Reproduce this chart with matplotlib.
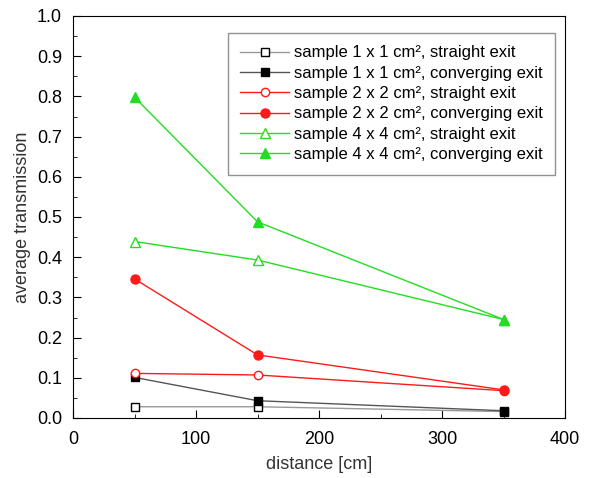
import matplotlib.pyplot as plt
from matplotlib.ticker import MultipleLocator, FormatStrFormatter

plt.rcParams['font.family'] = ['Liberation Sans', 'DejaVu Sans']

distance = [50, 150, 350]
s1_straight = [0.028, 0.028, 0.016]
s1_converging = [0.101, 0.043, 0.018]
s2_straight = [0.111, 0.107, 0.068]
s2_converging = [0.346, 0.157, 0.070]
s4_straight = [0.439, 0.393, 0.245]
s4_converging = [0.798, 0.488, 0.245]

labels = ['sample 1 x 1 cm², straight exit',
          'sample 1 x 1 cm², converging exit',
          'sample 2 x 2 cm², straight exit',
          'sample 2 x 2 cm², converging exit',
          'sample 4 x 4 cm², straight exit',
          'sample 4 x 4 cm², converging exit']

fig = plt.figure(figsize=(5.96, 4.78), dpi=100)
ax = fig.add_axes([73 / 596, 1 - 418 / 478, 492 / 596, 402 / 478])

gray = '#555555'
red = '#ff1a1a'
green = '#22dd22'

ax.plot(distance, s1_straight, color='#999999', lw=1, marker='s', ms=5.5,
        mfc='white', mec='black', mew=1, label=labels[0])
ax.plot(distance, s1_converging, color=gray, lw=1, marker='s', ms=5.5,
        mfc='black', mec='black', label=labels[1])
ax.plot(distance, s2_straight, color=red, lw=1, marker='o', ms=6,
        mfc='white', mec=red, mew=1, label=labels[2])
ax.plot(distance, s2_converging, color=red, lw=1, marker='o', ms=6.5,
        mfc=red, mec=red, label=labels[3])
ax.plot(distance, s4_straight, color=green, lw=1, marker='^', ms=7,
        mfc='white', mec=green, mew=1, label=labels[4])
ax.plot(distance, s4_converging, color=green, lw=1, marker='^', ms=7,
        mfc=green, mec=green, label=labels[5])

ax.xaxis.set_major_locator(MultipleLocator(100))
ax.xaxis.set_minor_locator(MultipleLocator(50))
ax.yaxis.set_major_locator(MultipleLocator(0.1))
ax.yaxis.set_minor_locator(MultipleLocator(0.05))
ax.yaxis.set_major_formatter(FormatStrFormatter('%.1f'))
ax.set_xlim(0, 400)
ax.set_ylim(0, 1.0)
ax.tick_params(which='both', direction='in', top=False, right=False, labelsize=13)
ax.tick_params(which='major', length=6)
ax.tick_params(which='minor', length=3)
ax.tick_params(axis='x', pad=9)
ax.tick_params(axis='y', pad=8)

ax.set_xlabel('distance [cm]', fontsize=13, color='#333333', labelpad=6)
ax.set_ylabel('average transmission', fontsize=13, color='#333333', labelpad=4)

leg = ax.legend(loc='upper right', bbox_to_anchor=(0.98, 0.958), fontsize=12,
                frameon=True, fancybox=False, handlelength=2.9, handletextpad=0.3,
                borderpad=0.75, labelspacing=0.32, borderaxespad=0)
leg.get_frame().set_edgecolor('#777777')
leg.get_frame().set_linewidth(1)

fig.savefig('out.png', dpi=100)
